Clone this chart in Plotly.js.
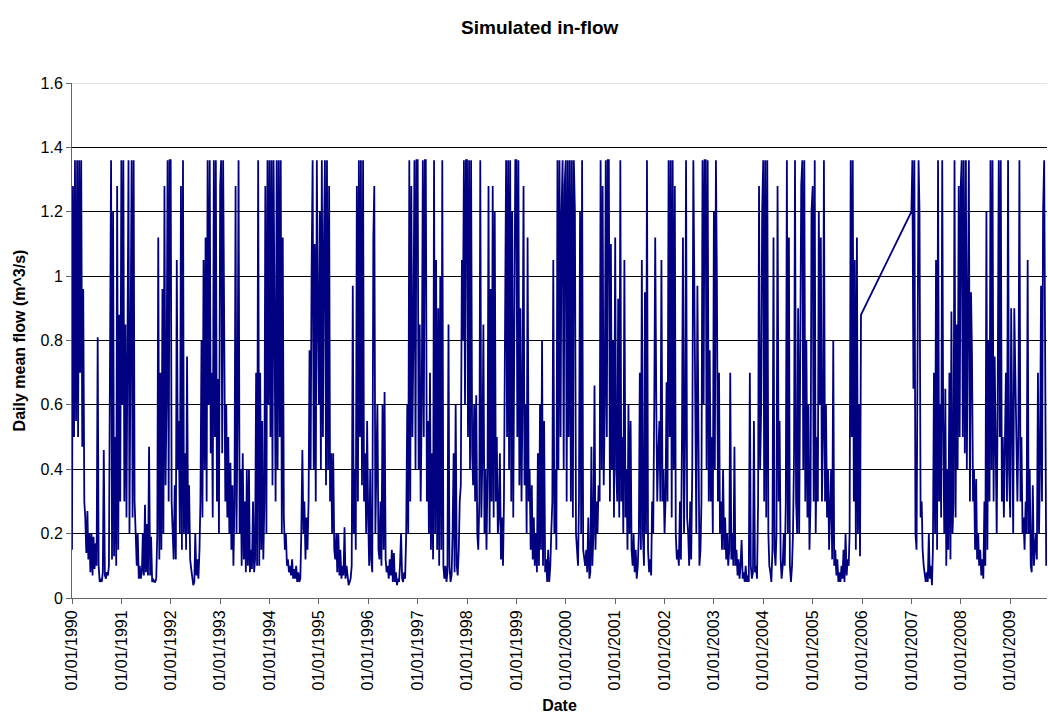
<!DOCTYPE html>
<html><head><meta charset="utf-8">
<script src="https://cdn.plot.ly/plotly-3.0.1.min.js"></script>
<style>html,body{margin:0;padding:0;background:#fff}</style>
</head><body><div id="chart" style="width:1048px;height:714px"></div>
<script>
// Daily mean flow (m^3/s) at ~48 samples per year (≈ weekly)
const flow1990 = [0.15,1.28,0.5,1.36,0.55,1.36,0.5,1.36,0.7,1.36,0.47,0.96,0.3,0.25,0.14,0.27,0.12,0.2,0.08,0.2,0.07,0.19,0.09,0.17,0.1,0.81,0.1,0.05,0.06,0.05,0.08,0.46,0.07,0.06,0.08,0.07,0.1,0.77,1.36,0.12,1.2,0.13,0.5,0.1,1.28,0.15,0.88,0.3];
const flow1991 = [1.36,0.6,1.36,0.3,0.85,0.25,0.7,1.36,0.2,0.65,1.36,0.25,1.36,0.3,0.15,0.1,0.2,0.06,0.1,0.06,0.08,0.2,0.07,0.29,0.08,0.23,0.07,0.47,0.07,0.19,0.05,0.06,0.05,0.05,0.06,0.2,1.12,0.12,0.7,0.15,0.96,0.2,1.28,0.35,0.6,1.36,0.3,1.36];
const flow1992 = [1.36,0.3,0.2,0.12,0.35,0.12,1.05,0.4,0.55,0.2,1.28,0.15,1.36,0.2,0.45,0.15,0.75,0.2,0.35,0.12,0.09,0.06,0.04,0.05,0.2,0.07,0.12,0.06,0.15,0.3,0.8,0.25,1.05,0.4,1.12,0.3,1.36,0.6,1.36,0.45,0.7,0.25,1.36,0.5,1.36,0.3,0.68,0.2];
const flow1993 = [1.28,1.36,0.45,1.36,0.9,0.3,0.6,0.25,0.5,0.2,0.42,0.15,0.35,0.1,0.3,1.28,0.2,0.6,1.36,0.2,0.4,0.1,0.45,0.12,0.3,0.08,0.4,0.1,0.4,0.08,0.15,0.09,0.3,0.08,0.12,0.7,0.1,1.36,0.1,0.7,0.15,0.55,0.12,0.3,1.28,0.2,1.36,0.6];
const flow1994 = [1.36,0.5,1.36,0.35,1.36,0.6,0.3,1.36,0.4,1.36,0.5,1.36,0.2,1.12,0.25,0.15,0.2,0.1,0.12,0.08,0.1,0.07,0.12,0.06,0.09,0.06,0.1,0.05,0.08,0.05,0.06,0.2,0.46,0.2,0.3,0.12,0.25,0.15,0.3,0.77,0.4,1.0,1.36,0.4,1.1,0.3,1.36,0.9];
const flow1995 = [0.6,1.2,0.4,1.36,0.5,1.12,1.36,0.35,1.36,0.4,1.28,0.3,0.45,0.2,0.45,0.15,0.12,0.2,0.08,0.2,0.07,0.15,0.06,0.1,0.07,0.22,0.06,0.1,0.05,0.04,0.05,0.06,0.1,0.97,0.2,0.4,0.15,1.28,0.3,1.36,0.5,1.36,0.35,1.36,0.3,0.45,0.2,0.55];
const flow1996 = [0.25,0.1,0.4,0.12,0.08,1.12,1.28,0.2,0.4,0.6,0.15,0.12,0.3,0.1,0.6,0.15,0.64,0.12,0.08,0.1,0.06,0.12,0.07,0.15,0.05,0.14,0.05,0.08,0.04,0.06,0.05,0.1,0.2,0.06,0.05,0.08,0.06,0.2,0.6,0.2,1.36,0.3,1.28,0.5,0.8,1.36,0.4,1.36];
const flow1997 = [1.36,0.4,0.85,0.3,0.6,1.36,0.5,1.36,1.36,0.3,0.55,0.2,0.7,0.15,0.45,0.12,1.36,0.2,1.05,0.15,0.9,0.1,1.0,0.15,1.36,0.1,0.06,0.1,0.05,0.08,0.85,0.1,0.05,0.07,0.2,0.45,0.08,0.6,0.1,0.07,0.15,0.3,0.35,1.05,0.8,1.36,0.6,1.36];
const flow1998 = [1.36,0.5,1.36,0.4,1.36,0.45,0.35,0.6,0.3,0.63,0.2,0.15,0.3,1.36,0.25,0.45,0.85,0.2,0.4,0.15,0.4,1.28,0.2,0.96,0.3,1.28,0.25,1.2,0.3,0.5,0.2,0.25,0.45,0.12,0.25,0.1,0.3,0.8,1.36,0.5,1.36,0.4,1.36,0.3,1.2,0.25,0.7,1.36];
const flow1999 = [1.36,0.5,1.36,0.35,0.9,0.3,0.6,1.28,0.35,0.6,0.2,1.12,0.3,0.4,0.15,0.35,0.12,0.25,0.1,0.2,0.08,0.45,0.1,0.6,0.15,0.8,0.1,0.55,0.08,0.12,0.05,0.15,0.05,0.1,0.2,0.3,1.05,0.2,0.4,0.15,1.36,0.4,1.36,0.5,1.2,1.36,0.4,1.28];
const flow2000 = [1.36,0.3,1.36,0.5,1.36,0.3,1.36,0.25,1.36,1.2,0.2,0.15,0.1,0.3,1.2,0.2,1.36,0.15,0.12,0.1,0.15,0.08,0.25,0.06,0.08,0.47,0.1,0.2,0.66,0.15,0.3,0.2,0.35,0.3,1.36,0.4,1.28,0.35,0.6,1.36,0.5,1.36,1.36,0.3,1.1,0.4,0.8,0.25];
const flow2001 = [1.12,0.4,0.3,0.93,0.25,1.36,0.3,0.5,0.2,1.05,0.25,0.4,0.15,0.6,0.2,0.55,0.15,0.1,0.2,0.08,0.15,0.06,0.1,0.2,0.7,0.15,1.05,0.2,0.1,0.95,0.2,1.36,0.15,0.08,0.12,0.07,0.3,0.2,0.6,1.12,0.6,0.3,0.45,0.55,0.3,1.05,0.3,0.4];
const flow2002 = [0.2,0.3,0.67,0.3,1.36,0.5,1.36,0.25,1.36,0.4,1.28,0.2,0.12,0.15,0.1,0.3,0.12,0.5,1.12,0.2,0.5,1.36,0.25,0.2,0.1,0.3,0.12,0.4,1.36,1.05,0.5,0.2,0.97,0.25,0.1,0.15,0.3,1.36,0.6,1.36,1.36,0.4,1.36,0.3,0.77,0.3,0.5,0.2];
const flow2003 = [1.2,0.4,1.36,1.0,0.3,0.7,0.2,0.3,0.15,0.4,0.15,0.25,0.12,0.2,0.1,0.15,0.7,0.12,0.2,0.1,0.47,0.1,0.15,0.07,0.12,0.06,0.1,0.18,0.06,0.08,0.05,0.1,0.05,0.07,0.05,0.7,0.1,0.06,0.08,0.55,0.08,0.1,0.06,0.3,1.28,0.4,0.6,1.2];
const flow2004 = [1.36,0.3,1.36,0.25,1.36,0.2,0.1,0.08,0.05,0.15,1.12,0.15,0.1,0.2,1.28,0.3,0.55,0.12,0.06,0.1,0.2,0.1,0.3,1.36,0.2,1.12,0.1,0.05,0.1,0.2,0.45,1.36,0.3,0.2,0.9,0.2,0.6,1.28,1.36,0.4,1.36,0.3,0.8,0.25,0.6,0.15,0.3,1.2];
const flow2005 = [1.28,0.3,1.36,0.2,0.5,0.3,1.2,0.6,1.12,0.3,0.5,1.36,0.3,0.6,0.25,0.4,0.15,0.3,0.4,0.12,0.8,0.1,0.15,0.07,0.12,0.05,0.08,0.05,0.1,0.06,0.15,0.05,0.2,0.07,0.12,0.1,0.2,1.36,0.5,1.36,0.3,1.05,0.15,1.12,0.2,0.6,0.13,0.88];
const flow2006 = []; // no data recorded in 2006
const flow2007 = [1.2,1.36,0.65,1.36,0.2,0.15,0.7,1.36,1.2,0.25,0.3,0.15,0.1,0.07,0.05,0.08,0.05,0.2,0.06,0.1,0.04,0.15,0.7,0.2,1.05,0.15,1.36,0.3,0.6,0.25,1.36,0.55,0.2,0.65,0.1,0.4,0.15,0.7,0.12,0.89,0.2,0.3,1.36,0.25,0.85,0.4,1.28,0.5];
const flow2008 = [1.28,1.36,0.5,1.36,0.45,1.36,0.4,0.9,1.36,0.3,0.95,0.76,0.3,0.4,0.15,0.37,0.12,0.2,0.1,0.15,0.07,0.12,0.06,0.3,0.1,1.2,0.15,0.8,0.3,1.36,0.4,1.36,0.3,0.75,0.4,0.2,0.6,1.36,0.5,1.36,0.3,0.5,0.25,0.55,0.7,0.3,1.36,0.4];
const flow2009 = [0.25,0.9,0.4,0.2,0.9,0.65,0.55,0.3,0.5,1.36,0.3,0.5,0.2,0.25,0.15,0.3,0.2,1.05,0.2,0.4,0.1,0.08,0.35,0.1,0.15,0.2,0.12,0.7,0.2,0.4,0.97,0.3,1.2,1.36,0.78,0.1];

const yearList = [1990,1991,1992,1993,1994,1995,1996,1997,1998,1999,2000,2001,2002,2003,2004,2005,2006,2007,2008,2009];
const yearSeries = [flow1990,flow1991,flow1992,flow1993,flow1994,flow1995,flow1996,flow1997,flow1998,flow1999,flow2000,flow2001,flow2002,flow2003,flow2004,flow2005,flow2006,flow2007,flow2008,flow2009];
const samplesPerYear = 48;

const xDates = [], yFlow = [];
yearList.forEach((yr, k) => {
  yearSeries[k].forEach((v, i) => {
    const t = Date.UTC(yr, 0, 1) + i * (365.25 / samplesPerYear) * 86400000;
    xDates.push(new Date(t).toISOString().slice(0, 10));
    yFlow.push(v);
  });
});

const fontFam = '"Liberation Sans", Arial, Helvetica, sans-serif';

const trace = {
  type: 'scatter', mode: 'lines',
  x: xDates, y: yFlow,
  line: {color: '#000080', width: 1.8},
  hoverinfo: 'x+y'
};

const layout = {
  width: 1048, height: 714,
  margin: {l: 72, r: 1, t: 83, b: 116},
  paper_bgcolor: '#ffffff', plot_bgcolor: '#ffffff',
  font: {family: fontFam, size: 16, color: '#000'},
  showlegend: false,
  title: {
    text: 'Simulated in-flow',
    font: {family: fontFam, size: 19, weight: 'bold', color: '#000'},
    xref: 'container', x: 0.515, xanchor: 'center',
    yref: 'container', y: 1 - 27/714, yanchor: 'middle'
  },
  xaxis: {
    type: 'date',
    range: ['1990-01-01', '2009-09-30'],
    tick0: '1990-01-01', dtick: 'M12',
    tickformat: '%d/%m/%Y',
    tickangle: -90,
    ticks: 'outside', ticklen: 5, tickcolor: '#666', tickwidth: 1,
    showline: true, linecolor: '#666', linewidth: 1,
    showgrid: false, zeroline: false,
    tickfont: {family: fontFam, size: 16, color: '#000'},
    title: {text: 'Date', font: {family: fontFam, size: 16, weight: 'bold', color: '#000'}, standoff: 11}
  },
  yaxis: {
    range: [0, 1.6], dtick: 0.2, tick0: 0,
    ticks: 'outside', ticklen: 5, tickcolor: '#666', tickwidth: 1,
    showline: true, linecolor: '#666', linewidth: 1,
    showgrid: true, gridcolor: '#000', gridwidth: 1,
    zeroline: false,
    tickfont: {family: fontFam, size: 16, color: '#000'},
    title: {text: 'Daily mean flow (m^3/s)', font: {family: fontFam, size: 16, weight: 'bold', color: '#000'}, standoff: 10}
  },
  shapes: [{
    type: 'line', xref: 'paper', yref: 'y', x0: 0, x1: 1, y0: 1.6, y1: 1.6,
    line: {color: '#c8c8c8', width: 1}, layer: 'above'
  }]
};

Plotly.newPlot('chart', [trace], layout, {displayModeBar: false, staticPlot: true});
</script>
</body></html>
